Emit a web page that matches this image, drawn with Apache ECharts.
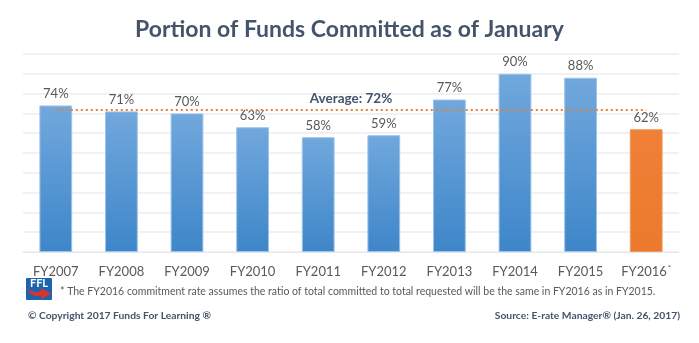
<!DOCTYPE html>
<html>
<head>
<meta charset="utf-8">
<script src="https://cdn.jsdelivr.net/npm/echarts@6/dist/echarts.min.js"></script>
<style>
  html, body { margin: 0; padding: 0; background: #ffffff; }
  #chart { width: 699px; height: 343px; }
</style>
</head>
<body>
<div id="chart"></div>
<script>
// Fiscal years and the share of requested funds committed by January (%)
const categories = ['FY2007', 'FY2008', 'FY2009', 'FY2010', 'FY2011',
                    'FY2012', 'FY2013', 'FY2014', 'FY2015', 'FY2016'];
const committedPct = [74, 71, 70, 63, 58, 59, 77, 90, 88, 62];
const averagePct = 72;
const estimatedYear = 'FY2016';
const yMin = 0;
const yMax = 100;
const yStep = 10;

const FONT = 'Lato, "Open Sans", "Liberation Sans", sans-serif';
const DARK = '#44546A';
const GREY = '#595959';

const blueFill = new echarts.graphic.LinearGradient(0, 0, 0, 1, [
  { offset: 0, color: '#71A8DD' },
  { offset: 1, color: '#3E86C9' }
]);
const orangeFill = new echarts.graphic.LinearGradient(0, 0, 0, 1, [
  { offset: 0, color: '#EF8035' },
  { offset: 1, color: '#EC7A2E' }
]);

const barData = committedPct.map((v, i) => ({
  value: v,
  itemStyle: categories[i] === estimatedYear
    ? { color: orangeFill, borderColor: '#F29A5C', borderWidth: 1 }
    : { color: blueFill, borderColor: '#9CC3EA', borderWidth: 1 }
}));

const chart = echarts.init(document.getElementById('chart'), null, { renderer: 'canvas' });

chart.setOption({
  backgroundColor: '#ffffff',
  animation: false,
  title: {
    text: 'Portion of Funds Committed as of January',
    left: 'center',
    top: 13,
    textStyle: { fontFamily: FONT, fontSize: 23, fontWeight: 'bold', color: DARK }
  },
  grid: { left: 23, right: 20, top: 54, bottom: 91 },
  xAxis: {
    type: 'category',
    data: categories,
    axisLine: { show: true, lineStyle: { color: '#E6E8EE', width: 1 } },
    axisTick: { show: false },
    axisLabel: {
      interval: 0,
      margin: 12,
      formatter: (v) => '{n|' + v + '}' + (v === estimatedYear ? '{s|*}' : ''),
      rich: {
        n: { fontFamily: FONT, fontSize: 13, lineHeight: 16, color: GREY },
        s: { fontFamily: FONT, fontSize: 8, lineHeight: 8, color: GREY,
             verticalAlign: 'top', padding: [0, 0, 0, 1] }
      }
    }
  },
  yAxis: {
    type: 'value',
    min: yMin,
    max: yMax,
    interval: yStep,
    axisLabel: { show: false },
    axisLine: { show: false },
    axisTick: { show: false },
    splitLine: { lineStyle: { color: '#ECEDF2', width: 1.5 } }
  },
  series: [{
    type: 'bar',
    data: barData,
    barWidth: '50%',
    label: {
      show: true,
      position: 'top',
      distance: 5,
      formatter: '{c}%',
      fontFamily: FONT,
      fontSize: 13,
      color: GREY
    },
    markLine: {
      silent: true,
      symbol: 'none',
      lineStyle: { color: '#ED7D31', type: [2, 3], width: 2 },
      label: {
        show: true,
        position: 'middle',
        formatter: 'Average: ' + averagePct + '%',
        fontFamily: FONT,
        fontSize: 13.5,
        fontWeight: 'bold',
        color: DARK,
        distance: 4
      },
      data: [[
        { coord: [categories[0], averagePct] },
        { coord: [categories[categories.length - 1], averagePct] }
      ]]
    }
  }],
  graphic: [
    // FFL logo: blue badge with a red swoosh arrow
    {
      type: 'group',
      left: 26,
      top: 278,
      children: [
        { type: 'rect', shape: { x: 0, y: 0, width: 26, height: 22, r: 1 },
          style: { fill: '#1E63B0' } },
        { type: 'text', style: { x: 13, y: 0, text: 'FFL', fill: '#ffffff',
          font: 'bold 11px ' + FONT, align: 'center' } },
        { type: 'polygon',
          shape: { points: [[1, 10], [4, 15.5], [9, 18], [15, 18], [15, 21.5], [25, 15.5],
                            [15, 10], [15, 13.5], [9, 14], [4, 12.5]] },
          style: { fill: '#D9342B' } }
      ]
    },
    {
      type: 'text',
      left: 60,
      top: 286,
      style: {
        text: '* The FY2016 commitment rate assumes the ratio of total committed to total requested will be the same in FY2016 as in FY2015.',
        font: '10.5px ' + FONT,
        fill: GREY
      }
    },
    {
      type: 'text',
      left: 28,
      top: 311,
      style: {
        text: '\u00A9 Copyright 2017 Funds For Learning \u00AE',
        font: 'bold 10.3px ' + FONT,
        fill: DARK
      }
    },
    {
      type: 'text',
      right: 19,
      top: 311,
      style: {
        text: 'Source: E-rate Manager\u00AE (Jan. 26, 2017)',
        font: 'bold 10.3px ' + FONT,
        fill: DARK
      }
    }
  ]
});
</script>
</body>
</html>
